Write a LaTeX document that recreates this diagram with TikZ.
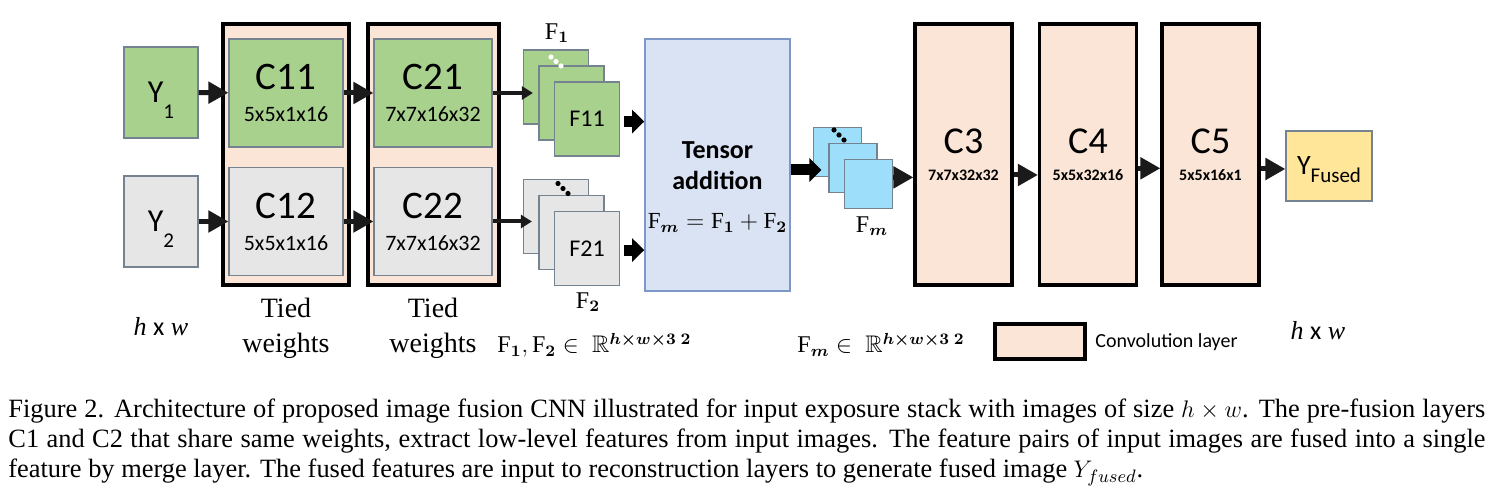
\documentclass[tikz,border=0pt]{standalone}
\usepackage{amsmath,amssymb,bm}
\usepackage{fontspec}
\setmainfont{Liberation Serif}
\setsansfont{Carlito}
\usetikzlibrary{arrows.meta}

\definecolor{boxgreen}{HTML}{A9D18E}
\definecolor{boxgray}{HTML}{E7E6E6}
\definecolor{convpeach}{HTML}{FBE5D6}
\definecolor{addblue}{HTML}{DAE3F3}
\definecolor{featcyan}{HTML}{9DDFFB}
\definecolor{outyellow}{HTML}{FFE699}
\definecolor{edgegray}{HTML}{75828F}
\definecolor{edgeblue}{HTML}{7D98C6}
\definecolor{arrowblack}{HTML}{1A1A1A}

\newcommand{\lowsub}[2][8pt]{\raisebox{-#1}[0pt][0pt]{\fontsize{10.5}{12}\selectfont #2}}
\newcommand{\kernsize}[1]{{\fontsize{11}{12}\selectfont #1}}
\newcommand{\layersize}[1]{{\bfseries\fontsize{8}{10}\selectfont #1}}

\begin{document}
\begin{tikzpicture}[x=0.5pt, y=-0.5pt,
    inbox/.style={draw=edgegray, line width=0.6pt, inner sep=0pt, minimum width=37pt, minimum height=45.5pt, font=\sffamily\fontsize{16}{18}\selectfont},
    tiedbox/.style={draw=black, line width=1.6pt, fill=convpeach, inner sep=0pt, minimum height=130.5pt},
    cbox/.style={draw=edgegray, line width=0.6pt, inner sep=0pt, minimum height=54pt, align=center, font=\sffamily\fontsize{19.5}{16}\selectfont},
    fsq/.style={draw=edgegray, line width=0.6pt, inner sep=0pt, minimum width=32.5pt, minimum height=37pt, font=\sffamily\fontsize{12}{13}\selectfont},
    fmsq/.style={draw=edgegray, fill=featcyan, line width=0.6pt, inner sep=0pt, minimum width=24pt, minimum height=24.5pt},
    convbox/.style={draw=black, line width=1.6pt, fill=convpeach, inner sep=0pt, minimum width=48.5pt, minimum height=130.5pt, align=center, font=\sffamily\fontsize{19}{13.5}\selectfont},
    arr/.style={draw=arrowblack, line width=2.5pt, -{Triangle[length=10pt,width=10.5pt]}},
    thinarr/.style={draw=arrowblack, line width=2pt, -{Triangle[length=5.5pt,width=6.5pt]}},
    fatarr/.style={draw=black, line width=5.5pt, -{Triangle[length=6pt,width=11.5pt]}},
    mathlbl/.style={inner sep=0pt, font=\fontsize{12}{14}\selectfont},
    sertext/.style={inner sep=0pt, font=\fontsize{14}{17.5}\selectfont, align=center}
  ]
    \useasboundingbox (0,0) rectangle (1495,501);

    % Inputs
    \node[inbox, fill=boxgreen] (y1) at (161,92.5) {Y\lowsub{1}};
    \node[inbox, fill=boxgray] (y2) at (161,221.5) {Y\lowsub{2}};

    % Tied weight blocks
    \node[tiedbox, minimum width=63pt] (tied1) at (286,154.5) {};
    \node[tiedbox, minimum width=65.5pt] (tied2) at (433.5,154.5) {};
    % -- first layer
    \node[cbox, fill=boxgreen, minimum width=57pt] (c11) at (286,93) {C11\\\kernsize{5x5x1x16}};
    \node[cbox, fill=boxgray, minimum width=57pt] (c12) at (286,221.5) {C12\\\kernsize{5x5x1x16}};
    % -- second layer
    \node[cbox, fill=boxgreen, minimum width=59pt] (c21) at (433,93) {C21\\\kernsize{7x7x16x32}};
    \node[cbox, fill=boxgray, minimum width=59pt] (c22) at (433,221.5) {C22\\\kernsize{7x7x16x32}};

    % Feature maps
    \node[fsq, fill=boxgreen] (f1a) at (556,87) {};
    \node[fsq, fill=boxgreen] (f1b) at (571.5,103) {};
    \node[fsq, fill=boxgreen] (f1c) at (587,119) {F11};
    \node[fsq, fill=boxgray] (f2a) at (556,216.5) {};
    \node[fsq, fill=boxgray] (f2b) at (571.5,232.5) {};
    \node[fsq, fill=boxgray] (f2c) at (587,248.5) {F21};
    \fill[white] (551,57) circle (1.3pt) (556,61.5) circle (1.3pt) (561,66) circle (1.3pt);
    \fill[black] (558,183.5) circle (1.3pt) (563,188.5) circle (1.3pt) (568,193.5) circle (1.3pt);
    \node[mathlbl] (f1name) at (557,33) {$\mathrm{F}_{\bm 1}$};
    \node[mathlbl] (f2name) at (588,302) {$\mathrm{F}_{\bm 2}$};

    % Tensor addition
    \node[draw=edgeblue, fill=addblue, line width=0.8pt, minimum width=72.5pt, minimum height=126pt] (tadd) at (717.5,165) {};
    \node[align=center, font=\sffamily\bfseries\fontsize{13}{15.5}\selectfont] (taddtxt) at (717.5,187)
        {Tensor\\addition\\[4pt]\mdseries\fontsize{11.5}{12}\selectfont $\mathrm{F}_{\bm m}=\mathrm{F}_{\bm 1}+\mathrm{F}_{\bm 2}$};

    % Merged features
    \node[fmsq] (fma) at (837.5,152) {};
    \node[fmsq] (fmb) at (853,168) {};
    \node[fmsq] (fmc) at (868.5,184) {};
    \fill[black] (834,130) circle (1.3pt) (839,135) circle (1.3pt) (844,140) circle (1.3pt);
    \node[mathlbl] (fmname) at (872,226) {$\mathrm{F}_{\bm m}$};

    % Reconstruction layers
    \node[convbox] (c3) at (963.5,154.5) {C3\\\layersize{7x7x32x32}};
    \node[convbox] (c4) at (1088,154.5) {C4\\\layersize{5x5x32x16}};
    \node[convbox] (c5) at (1210.5,154.5) {C5\\\layersize{5x5x16x1}};
    \node[inbox, fill=outyellow, minimum width=43pt, minimum height=35pt, font=\sffamily\fontsize{14}{15}\selectfont] (yf) at (1329,166) {Y\lowsub[3.9pt]{Fused}};

    % Arrows
    \draw[arr] (y1) -- (c11);
    \draw[arr] (y2) -- (c12);
    \draw[arr] (c11) -- (c21);
    \draw[arr] (c12) -- (c22);
    \draw[thinarr, shorten >=-5pt] (c21.east) -- (c21.east -| f1a.west);
    \draw[thinarr, shorten >=-4.5pt] (c22.east) -- (c22.east -| f2a.west);
    \draw[fatarr] ([xshift=1.75pt,yshift=-1.3pt]f1c.east) -- ([yshift=-1.3pt]f1c.east -| tadd.west);
    \draw[fatarr] ([xshift=1.75pt,yshift=-0.8pt]f2c.east) -- ([yshift=-0.8pt]f2c.east -| tadd.west);
    \draw[fatarr] ([yshift=-2.5pt]tadd.east) -- ([xshift=4.25pt,yshift=-2.5pt]tadd.east -| fma.west);
    \draw[arr] ([yshift=3.3pt]fmc.east) -- ([yshift=3.3pt]fmc.east -| c3.west);
    \draw[arr] ([yshift=-10.25pt]c3.east) -- ([yshift=-10.25pt]c4.west);
    \draw[arr] ([yshift=-6.9pt]c4.east) -- ([yshift=-6.9pt]c5.west);
    \draw[arr] ([yshift=-1.5pt]c5.east |- yf.west) -- ([yshift=-1.5pt]yf.west);

    % Bottom labels
    \node[sertext, font=\fontsize{13}{15}\selectfont] (hwin) at (161,327) {\textit{h} {\sffamily x} \textit{w}};
    \node[sertext] (tw1) at (286,328) {Tied\\weights};
    \node[sertext] (tw2) at (433,328) {Tied\\weights};
    \node[mathlbl, anchor=base west] (fset) at (497,353) {$\mathrm{F}_{\bm 1},\mathrm{F}_{\bm 2}\in\;\mathbb{R}^{\bm{h\times w\times 3\;2}}$};
    \node[mathlbl, anchor=base west] (fmset) at (797,353) {$\mathrm{F}_{\bm m}\in\;\mathbb{R}^{\bm{h\times w\times 3\;2}}$};
    % -- legend
    \node[convbox, minimum width=45pt, minimum height=17.5pt] (legbox) at (1040,341.5) {};
    \node[anchor=west, inner sep=0pt, font=\sffamily\fontsize{10}{12}\selectfont] (legtxt) at (1095,341.7) {Convolution layer};
    \node[sertext, font=\fontsize{13}{15}\selectfont] (hwout) at (1318,331) {\textit{h} {\sffamily x} \textit{w}};

    % Caption
    \node[anchor=north west, inner sep=0pt, text width=738.5pt, align=justify, font=\fontsize{13.2}{15}\selectfont] (caption) at (8,399)
        {\noindent Figure 2. Architecture of proposed image fusion CNN illustrated for input exposure stack with images of size $h\times w$. The pre-fusion layers\linebreak
         C1 and C2 that share same weights, extract low-level features from input images. The feature pairs of input images are fused into a single\linebreak
         feature by merge layer. The fused features are input to reconstruction layers to generate fused image $Y_{fused}$.};
\end{tikzpicture}
\end{document}
